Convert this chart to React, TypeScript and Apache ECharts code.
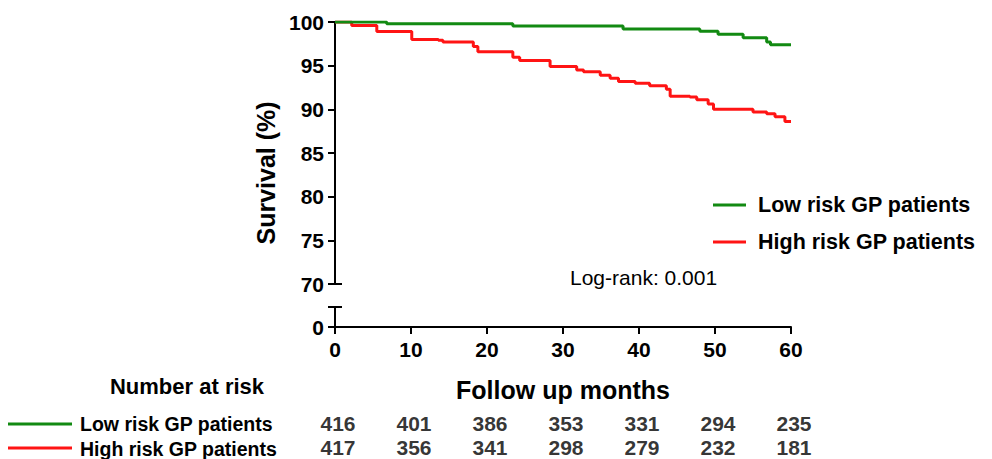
import React, { useEffect, useRef } from "react";
import * as echarts from "echarts";

const FONT = "'Liberation Sans', Arial, Helvetica, sans-serif";

const seriesNames = ["Low risk GP patients", "High risk GP patients"];
const seriesColors = ["#128a12", "#ff1414"];

// Kaplan-Meier steps: [month, survival %]
const lowRiskCurve: [number, number][] = [
  [0, 100], [6.8, 99.8], [23.4, 99.55], [37.9, 99.2], [48.0, 98.95],
  [50.4, 98.6], [53.7, 98.2], [56.8, 97.7], [57.3, 97.4], [60, 97.4],
];
const highRiskCurve: [number, number][] = [
  [0, 100], [2.2, 99.6], [5.5, 98.9], [10.1, 98.0], [13.6, 97.9], [14.2, 97.7],
  [18.2, 97.2], [18.8, 96.6], [23.4, 95.95], [24.3, 95.6], [28.3, 94.9],
  [31.8, 94.5], [32.7, 94.3], [34.9, 93.9], [36.2, 93.55], [37.3, 93.2],
  [39.5, 93.0], [41.4, 92.7], [43.6, 92.3], [44.1, 91.5], [46.7, 91.4],
  [47.6, 91.1], [49.1, 90.6], [49.8, 90.0], [55.0, 89.7], [56.8, 89.5],
  [57.9, 89.15], [59.2, 88.6], [60, 88.6],
];

const atRiskMonths = [0, 10, 20, 30, 40, 50, 60];
const lowAtRisk = [416, 401, 386, 353, 331, 294, 235];
const highAtRisk = [417, 356, 341, 298, 279, 232, 181];
const riskRows = ["Low", "High"];

const yTicksUpper = { min: 70, max: 100, interval: 5 };
const xTicks = { min: 0, max: 60, interval: 10 };

export default function App() {
  const ref = useRef<HTMLDivElement>(null);

  useEffect(() => {
    if (!ref.current) return;
    const chart = echarts.init(ref.current, undefined, { renderer: "svg" });

    const axisLine = { show: true, lineStyle: { color: "#000", width: 2 } };
    const axisTick = { show: true, inside: false, length: 7, lineStyle: { color: "#000", width: 2 } };
    const tickLabel = { color: "#000", fontFamily: FONT, fontWeight: "bold" as const, fontSize: 21 };

    const riskSeries = (vals: number[], row: string) => ({
      type: "scatter",
      xAxisIndex: 2,
      yAxisIndex: 2,
      symbol: "circle",
      symbolSize: 1,
      silent: true,
      itemStyle: { color: "rgba(0,0,0,0)" },
      label: {
        show: true,
        position: "inside",
        offset: [3, 0],
        formatter: (p: any) => String(p.value[2]),
        color: "#000",
        fontFamily: FONT,
        fontWeight: "bold",
        fontSize: 21,
      },
      data: vals.map((v, i) => [atRiskMonths[i], row, v]),
    });

    chart.setOption({
      animation: false,
      backgroundColor: "#fff",
      grid: [
        { left: 335, right: 201, top: 22, height: 262 },
        { left: 335, right: 201, top: 307, height: 20 },
        { left: 335, right: 201, top: 412, height: 50 },
      ],
      xAxis: [
        { type: "value", gridIndex: 0, ...xTicks, show: false },
        {
          type: "value",
          gridIndex: 1,
          ...xTicks,
          axisLine,
          axisTick,
          splitLine: { show: false },
          axisLabel: { ...tickLabel, margin: 12 },
          name: "Follow up months",
          nameLocation: "middle",
          nameGap: 50,
          nameTextStyle: { color: "#000", fontFamily: FONT, fontWeight: "bold", fontSize: 25 },
        },
        { type: "value", gridIndex: 2, ...xTicks, show: false },
      ],
      yAxis: [
        {
          type: "value",
          gridIndex: 0,
          ...yTicksUpper,
          axisLine,
          axisTick,
          splitLine: { show: false },
          axisLabel: { ...tickLabel, margin: 11 },
        },
        {
          type: "value",
          gridIndex: 1,
          min: 0,
          max: 10,
          interval: 10,
          axisLine,
          axisTick: { ...axisTick, customValues: [0] },
          splitLine: { show: false },
          axisLabel: { ...tickLabel, margin: 11, customValues: [0] },
        },
        {
          type: "category",
          gridIndex: 2,
          data: riskRows,
          inverse: true,
          show: false,
        },
      ],
      legend: {
        data: seriesNames,
        orient: "vertical",
        left: 708,
        top: 189,
        icon: "rect",
        itemWidth: 33,
        itemHeight: 3,
        itemGap: 15,
        textStyle: {
          color: "#000",
          fontFamily: FONT,
          fontWeight: "bold",
          fontSize: 21.5,
          padding: [0, 0, 0, 7],
        },
      },
      series: [
        {
          name: seriesNames[0],
          type: "line",
          step: "end",
          xAxisIndex: 0,
          yAxisIndex: 0,
          symbol: "none",
          color: seriesColors[0],
          lineStyle: { width: 3, color: seriesColors[0] },
          data: lowRiskCurve,
          z: 3,
        },
        {
          name: seriesNames[1],
          type: "line",
          step: "end",
          xAxisIndex: 0,
          yAxisIndex: 0,
          symbol: "none",
          color: seriesColors[1],
          lineStyle: { width: 3, color: seriesColors[1] },
          data: highRiskCurve,
          z: 2,
        },
        riskSeries(lowAtRisk, riskRows[0]),
        riskSeries(highAtRisk, riskRows[1]),
      ],
      graphic: [
        // axis break caps
        { type: "line", shape: { x1: 328, y1: 284, x2: 342, y2: 284 }, style: { stroke: "#000", lineWidth: 2 } },
        { type: "line", shape: { x1: 328, y1: 307, x2: 342, y2: 307 }, style: { stroke: "#000", lineWidth: 2 } },
        {
          type: "text",
          x: 266,
          y: 173,
          rotation: Math.PI / 2,
          style: {
            text: "Survival (%)",
            align: "center",
            verticalAlign: "middle",
            fill: "#000",
            font: `bold 25px ${FONT}`,
          },
        },
        {
          type: "text",
          x: 570,
          y: 277,
          style: {
            text: "Log-rank: 0.001",
            align: "left",
            verticalAlign: "middle",
            fill: "#000",
            font: `21px ${FONT}`,
          },
        },
        {
          type: "text",
          x: 187,
          y: 386,
          style: {
            text: "Number at risk",
            align: "center",
            verticalAlign: "middle",
            fill: "#000",
            font: `bold 22px ${FONT}`,
          },
        },
        { type: "line", shape: { x1: 8, y1: 424, x2: 72, y2: 424 }, style: { stroke: seriesColors[0], lineWidth: 3 } },
        { type: "line", shape: { x1: 8, y1: 448, x2: 72, y2: 448 }, style: { stroke: seriesColors[1], lineWidth: 3 } },
        {
          type: "text",
          x: 80,
          y: 424,
          style: {
            text: seriesNames[0],
            align: "left",
            verticalAlign: "middle",
            fill: "#000",
            font: `bold 19.5px ${FONT}`,
          },
        },
        {
          type: "text",
          x: 80,
          y: 449,
          style: {
            text: seriesNames[1],
            align: "left",
            verticalAlign: "middle",
            fill: "#000",
            font: `bold 19.5px ${FONT}`,
          },
        },
      ],
    });

    return () => chart.dispose();
  }, []);

  return (
    <div
      ref={ref}
      style={{ position: "fixed", left: 0, top: 0, width: 992, height: 459, background: "#fff" }}
    />
  );
}
